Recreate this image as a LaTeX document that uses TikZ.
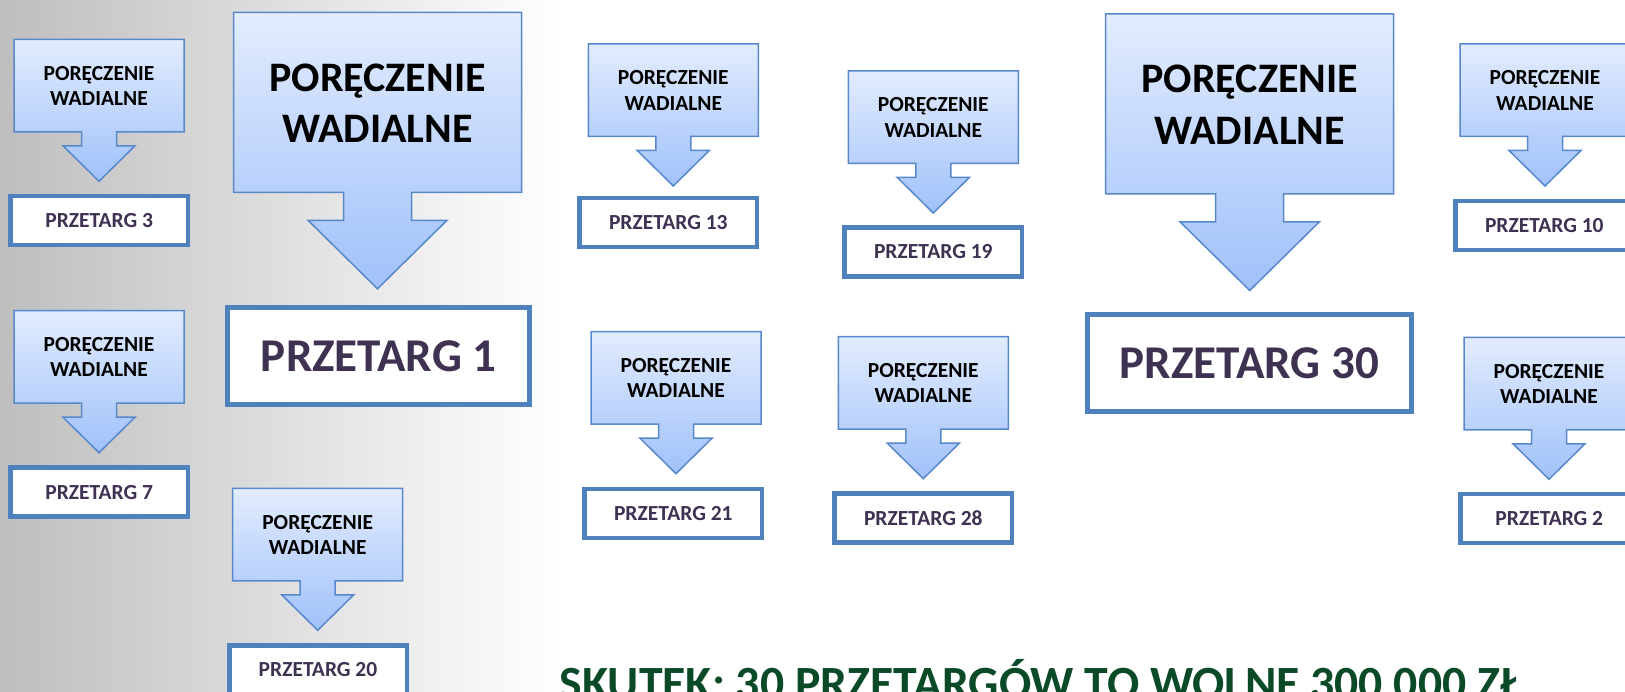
\documentclass[tikz,border=0pt]{standalone}
\usepackage{fontspec}
\setmainfont{Carlito}
\definecolor{arrtop}{RGB}{226,236,254}
\definecolor{arrbot}{RGB}{160,193,250}
\definecolor{arredge}{RGB}{88,136,204}
\definecolor{boxedge}{RGB}{79,129,189}
\definecolor{ptext}{RGB}{63,49,81}
\definecolor{skutekc}{RGB}{10,74,38}
\definecolor{bggray}{RGB}{190,190,190}
\tikzset{
  arrshape/.style={draw=arredge, line width=1.5pt, top color=arrtop, bottom color=arrbot, line join=miter},
  wadtxt/.style={align=center, inner sep=0pt, text=black, font=\bfseries\fontsize{21.5}{25.5}\selectfont},
  wadbigtxt/.style={align=center, inner sep=0pt, text=black, font=\bfseries\fontsize{42}{51.7}\selectfont},
  pbox/.style={draw=boxedge, line width=4.5pt, fill=white, minimum width=177.5pt, minimum height=49pt, inner sep=0pt, text=ptext, font=\bfseries\fontsize{21.5}{25}\selectfont},
  pbig/.style={draw=boxedge, line width=5pt, fill=white, minimum height=97pt, inner sep=0pt, text=ptext, font=\bfseries\fontsize{47}{56}\selectfont},
}
\newcommand\wadsmall[3]{%
  \path[arrshape] ({#2-85},{#3}) -- ({#2+85},{#3}) -- ({#2+85},{#3+92.5}) -- ({#2+17.5},{#3+92.5}) -- ({#2+17.5},{#3+106.5}) -- ({#2+36},{#3+106.5}) -- ({#2},{#3+142}) -- ({#2-36},{#3+106.5}) -- ({#2-17.5},{#3+106.5}) -- ({#2-17.5},{#3+92.5}) -- ({#2-85},{#3+92.5}) -- cycle;
  \node[wadtxt] (#1) at ({#2},{#3+46.5}) {PORĘCZENIE\\WADIALNE};
}
\newcommand\wadbig[3]{%
  \path[arrshape] ({#2-144},{#3}) -- ({#2+144},{#3}) -- ({#2+144},{#3+180}) -- ({#2+34},{#3+180}) -- ({#2+34},{#3+208}) -- ({#2+69.5},{#3+208}) -- ({#2},{#3+276.5}) -- ({#2-69.5},{#3+208}) -- ({#2-34},{#3+208}) -- ({#2-34},{#3+180}) -- ({#2-144},{#3+180}) -- cycle;
  \node[wadbigtxt] (#1) at ({#2},{#3+91}) {PORĘCZENIE\\WADIALNE};
}
\begin{document}
\begin{tikzpicture}[x=1pt,y=-1pt]
\useasboundingbox (0,0) rectangle (1625,692);
\clip (0,0) rectangle (1625,692);
\fill[white] (0,0) rectangle (1625,692);
\fill[left color=bggray, right color=white] (0,0) rectangle (560,692);
% big arrows
\wadbig{a1}{377.5}{12.3}
\wadbig{a30}{1249.7}{14}
% small arrows
\wadsmall{a3}{99}{39.3}
\wadsmall{a7}{99}{310.7}
\wadsmall{a20}{317.7}{488.3}
\wadsmall{a13}{673.3}{44}
\wadsmall{a19}{933.3}{71}
\wadsmall{a21}{676}{331.7}
\wadsmall{a28}{923.3}{336.7}
\wadsmall{a10}{1545}{44}
\wadsmall{a2}{1549}{337.3}
% tender boxes
\node[pbig, minimum width=302pt] (p1) at (378.7,355.8) {PRZETARG 1};
\node[pbig, minimum width=324pt] (p30) at (1249.5,363.3) {PRZETARG 30};
\node[pbox] (p3) at (99.2,220.3) {PRZETARG 3};
\node[pbox] (p7) at (99.2,492.2) {PRZETARG 7};
\node[pbox] (p20) at (318,670) {PRZETARG 20};
\node[pbox] (p13) at (668.3,222.7) {PRZETARG 13};
\node[pbox] (p19) at (933.3,252) {PRZETARG 19};
\node[pbox] (p21) at (673.3,513.3) {PRZETARG 21};
\node[pbox] (p28) at (923.3,518) {PRZETARG 28};
\node[pbox] (p10) at (1544.3,225.5) {PRZETARG 10};
\node[pbox] (p2) at (1549.3,518.3) {PRZETARG 2};
% bottom conclusion
\node[anchor=base west, inner sep=0pt, text=skutekc, font=\bfseries\fontsize{47.7}{57}\selectfont] (skutek) at (559.6,699.3) {SKUTEK: 30 PRZETARGÓW TO WOLNE 300 000 ZŁ};
\end{tikzpicture}
\end{document}
